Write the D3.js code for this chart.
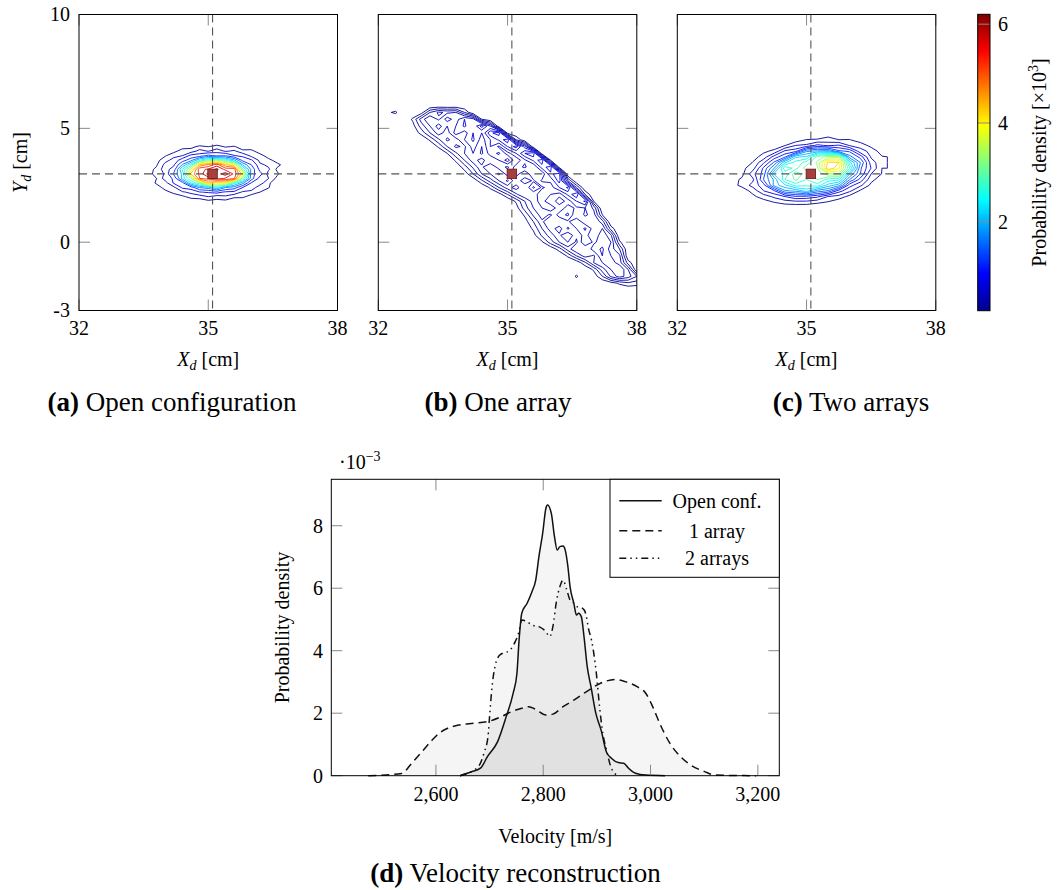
<!DOCTYPE html>
<html>
<head>
<meta charset="utf-8">
<script src="https://cdn.jsdelivr.net/npm/d3@7"></script>
<style>
  body { margin: 0; background: #fff; }
  svg { display: block; }
  text { font-family: "Liberation Serif", "Times New Roman", serif; fill: #000; }
</style>
</head>
<body>
<svg id="chart" width="1057" height="890" font-family="Liberation Serif"></svg>
<script>
// ---------- data ----------
// true source position (cm)
const sourceX = 35.1, sourceY = 3.0;

const xTickValues = [32, 35, 38];
const yTickValues = [-3, 0, 5, 10];
const colorbarTicks = [2, 4, 6];

// (a) open configuration : probability density x10^3, rows from top (y = 4.4) down, step 0.2 cm
const gridA = { x0: 33.4, dx: 0.2, yTop: 4.4, dy: 0.2 };
const densityA = [
  [0,0,0,0,0,0,0,0,0.05,0.06,0,0,0,0,0,0,0,0],
  [0,0,0,0,0,0.12,0.18,0.3,0.24,0.33,0.22,0.27,0.12,0.07,0,0,0,0],
  [0,0,0,0.1,0.16,0.38,0.35,0.6,0.48,0.66,0.46,0.55,0.3,0.33,0.1,0,0,0],
  [0,0,0.08,0.22,0.44,0.5,0.9,0.95,1.3,1.1,1.15,0.82,0.72,0.42,0.36,0.12,0.04,0],
  [0,0.03,0.15,0.42,0.58,1.0,1.45,2.4,3.0,3.2,2.7,2.1,1.05,0.85,0.42,0.33,0.14,0],
  [0,0.12,0.22,0.58,0.74,1.65,2.6,4.5,4.9,5.4,4.5,4.0,1.95,1.2,0.55,0.45,0.32,0.14],
  [0.02,0.16,0.3,0.66,0.95,2.45,3.8,5.5,5.65,6.1,5.45,5.5,2.95,1.5,0.68,0.54,0.2,0.03],
  [0,0.09,0.4,0.52,1.28,2.1,4.5,5.3,6.15,5.85,6.2,5.5,4.2,1.35,0.95,0.38,0.3,0.02],
  [0,0.14,0.25,0.62,0.85,2.15,3.25,5.2,5.35,5.8,5.55,5.3,3.1,1.4,0.64,0.5,0.17,0],
  [0,0.03,0.3,0.37,0.84,1.02,2.4,3.1,4.4,4.0,4.1,2.6,1.75,0.76,0.64,0.27,0.17,0],
  [0,0,0.09,0.36,0.42,0.86,0.96,1.6,1.8,2.35,1.6,1.4,0.8,0.68,0.32,0.27,0.04,0],
  [0,0,0,0.16,0.32,0.46,0.57,0.78,0.84,0.92,0.74,0.7,0.46,0.4,0.25,0.07,0,0],
  [0,0,0,0,0.1,0.2,0.34,0.36,0.5,0.37,0.45,0.3,0.31,0.13,0.04,0,0,0],
  [0,0,0,0,0,0,0.09,0.12,0.19,0.17,0.18,0.09,0.04,0,0,0,0,0],
  [0,0,0,0,0,0,0,0,0,0,0,0,0,0,0,0,0,0]
];
const levelsA = [0.25, 0.5, 0.8, 1.2, 1.6, 2.0, 2.4, 2.8, 3.2, 3.6, 4.0, 4.4, 4.8, 5.2, 5.6, 6.0];

// (b) one array : rows from y = 6.3 down, step 0.3 cm; columns from x = 32.4, step 0.2 cm
const gridB = { x0: 32.4, dx: 0.2, yTop: 6.3, dy: 0.3 };
const densityB = [
  [0,0,0,0,0,0,0,0,0,0, 0,0,0,0,0,0,0,0,0,0, 0,0,0,0,0,0,0,0,0,0],
  [0,0,0,0,0,0,0,0,0,0, 0,0,0,0,0,0,0,0,0,0, 0,0,0,0,0,0,0,0,0,0],
  [0.12,0,0,0.05,0.3,0.42,0.38,0.4,0.2,0, 0,0,0,0,0,0,0,0,0,0, 0,0,0,0,0,0,0,0,0,0],
  [0,0,0.12,0.35,0.5,0.38,0.55,0.45,0.6,0.55, 0.1,0,0,0,0,0,0,0,0,0, 0,0,0,0,0,0,0,0,0,0],
  [0,0,0.06,0.25,0.4,0.55,0.4,0.5,0.62,0.5, 0.75,0.5,0,0,0,0,0,0,0,0, 0,0,0,0,0,0,0,0,0,0],
  [0,0,0.02,0.14,0.3,0.45,0.35,0.55,0.45,0.6, 0.5,0.78,0.85,0.05,0,0,0,0,0,0, 0,0,0,0,0,0,0,0,0,0],
  [0,0,0,0,0.12,0.28,0.42,0.35,0.5,0.62, 0.45,0.6,0.72,0.88,0.2,0,0,0,0,0, 0,0,0,0,0,0,0,0,0,0],
  [0,0,0,0,0,0.12,0.3,0.42,0.38,0.55, 0.4,0.6,0.48,0.7,0.85,0.55,0,0,0,0, 0,0,0,0,0,0,0,0,0,0],
  [0,0,0,0,0,0,0.1,0.28,0.4,0.5, 0.38,0.55,0.62,0.45,0.6,0.8,0.88,0.02,0,0, 0,0,0,0,0,0,0,0,0,0],
  [0,0,0,0,0,0,0,0.12,0.3,0.45, 0.55,0.4,0.5,0.65,0.42,0.58,0.72,0.88,0.1,0, 0,0,0,0,0,0,0,0,0,0],
  [0,0,0,0,0,0,0,0.02,0.15,0.32, 0.48,0.6,0.45,0.38,0.55,0.62,0.5,0.75,0.86,0.05, 0,0,0,0,0,0,0,0,0,0],
  [0,0,0,0,0,0,0,0,0.04,0.2, 0.4,0.5,0.62,0.45,0.55,0.4,0.6,0.52,0.78,0.85, 0,0,0,0,0,0,0,0,0,0],
  [0,0,0,0,0,0,0,0,0,0.02, 0.18,0.35,0.5,0.62,0.42,0.58,0.48,0.62,0.62,0.85, 0.3,0,0,0,0,0,0,0,0,0],
  [0,0,0,0,0,0,0,0,0,0, 0,0.12,0.3,0.45,0.55,0.4,0.62,0.48,0.55,0.7, 0.82,0.3,0,0,0,0,0,0,0,0],
  [0,0,0,0,0,0,0,0,0,0, 0,0,0.05,0.2,0.38,0.5,0.42,0.6,0.5,0.45, 0.62,0.8,0.2,0,0,0,0,0,0,0],
  [0,0,0,0,0,0,0,0,0,0, 0,0,0,0,0.12,0.3,0.45,0.55,0.4,0.58, 0.45,0.6,0.72,0.1,0,0,0,0,0,0],
  [0,0,0,0,0,0,0,0,0,0, 0,0,0,0,0.05,0.25,0.4,0.5,0.6,0.42, 0.55,0.48,0.5,0.38,0,0,0,0,0,0],
  [0,0,0,0,0,0,0,0,0,0, 0,0,0,0,0,0.12,0.32,0.45,0.38,0.55, 0.62,0.4,0.52,0.45,0.1,0,0,0,0,0],
  [0,0,0,0,0,0,0,0,0,0, 0,0,0,0,0,0.05,0.2,0.38,0.5,0.4, 0.48,0.6,0.42,0.5,0.35,0,0,0,0,0],
  [0,0,0,0,0,0,0,0,0,0, 0,0,0,0,0,0.02,0.12,0.3,0.45,0.55, 0.38,0.5,0.62,0.45,0.5,0.15,0,0,0,0],
  [0,0,0,0,0,0,0,0,0,0, 0,0,0,0,0,0,0.06,0.22,0.35,0.48, 0.6,0.42,0.55,0.4,0.58,0.42,0,0,0,0],
  [0,0,0,0,0,0,0,0,0,0, 0,0,0,0,0,0,0,0.08,0.25,0.4, 0.5,0.38,0.6,0.48,0.55,0.5,0.12,0,0,0],
  [0,0,0,0,0,0,0,0,0,0, 0,0,0,0,0,0,0,0,0.02,0.15, 0.35,0.5,0.4,0.55,0.62,0.45,0.3,0,0,0],
  [0,0,0,0,0,0,0,0,0,0, 0,0,0,0,0,0,0,0,0,0, 0.12,0.3,0.45,0.38,0.6,0.5,0.42,0,0,0],
  [0,0,0,0,0,0,0,0,0,0, 0,0,0,0,0,0,0,0,0,0, 0,0.02,0.18,0.4,0.5,0.55,0.45,0.15,0,0],
  [0,0,0,0,0,0,0,0,0,0, 0,0,0,0,0,0,0,0,0,0, 0,0,0,0.12,0.35,0.5,0.6,0.4,0,0],
  [0,0,0,0,0,0,0,0,0,0, 0,0,0,0,0,0,0,0,0,0, 0,0.12,0,0.03,0.2,0.42,0.55,0.45,0.3,0.1],
  [0,0,0,0,0,0,0,0,0,0, 0,0,0,0,0,0,0,0,0,0, 0,0,0,0,0,0.05,0.12,0.18,0.15,0.05],
  [0,0,0,0,0,0,0,0,0,0, 0,0,0,0,0,0,0,0,0,0, 0,0,0,0,0,0,0,0,0,0],
  [0,0,0,0,0,0,0,0,0,0, 0,0,0,0,0,0,0,0,0,0, 0,0,0,0,0,0,0,0,0,0]
];
const levelsB = [0.1, 0.2, 0.3, 0.4, 0.5, 0.6, 0.7, 0.8];

// (c) two arrays : rows from y = 4.75 down, step 0.25 cm; columns from x = 33.25, step 0.25 cm
const gridC = { x0: 33.25, dx: 0.25, yTop: 4.75, dy: 0.25 };
const densityC = [
  [0,0,0,0,0,0,0,0,0.08,0.15,0.12,0.05,0,0,0],
  [0,0,0,0,0,0.06,0.1,0.26,0.27,0.34,0.25,0.26,0.08,0,0],
  [0,0,0,0.04,0.12,0.24,0.5,0.55,0.82,0.7,0.78,0.48,0.42,0.15,0],
  [0,0,0,0.2,0.3,0.8,0.9,1.7,1.8,1.85,1.3,1.2,0.58,0.44,0.1],
  [0,0,0.15,0.34,0.86,1.2,2.2,2.3,3.1,3.35,3.4,1.6,1.15,0.46,0.27],
  [0,0.04,0.26,0.7,1.3,2.2,2.6,2.85,3.3,4.3,4.25,2.35,1.5,0.62,0.34],
  [0,0.18,0.38,1.05,1.75,2.95,2.65,3.15,3.2,4.5,4.05,2.8,1.3,0.74,0.25],
  [0,0.17,0.65,1.1,2.3,2.55,3.2,2.85,3.15,3.4,3.45,2.0,1.25,0.5,0.24],
  [0.12,0.3,0.43,1.25,1.8,2.75,3.05,2.75,3.0,2.65,2.55,1.5,0.9,0.33,0.1],
  [0.17,0.3,0.6,0.88,1.85,2.2,2.6,2.55,2.65,2.15,1.85,0.85,0.56,0.18,0],
  [0,0.14,0.31,0.74,0.95,1.7,1.8,2.1,1.65,1.45,0.85,0.55,0.2,0.02,0],
  [0,0,0.2,0.34,0.56,0.74,0.95,0.9,0.8,0.48,0.4,0.16,0.03,0,0],
  [0,0,0.02,0.15,0.25,0.36,0.38,0.39,0.3,0.22,0.05,0,0,0,0],
  [0,0,0,0,0,0,0.03,0,0,0,0,0,0,0,0]
];
const levelsC = [0.25, 0.5, 0.75, 1.0, 1.25, 1.5, 1.75, 2.0, 2.25, 2.5, 2.75, 3.0, 3.25, 3.5, 3.75, 4.0, 4.25];

// (d) velocity reconstruction : probability density x10^-3
const velOpen = [2645,2665,2683,2696,2715,2731,2744,2751,2755,2760,2770,2779,2786,2792,2799,2805,2808,2815,2821,2826,2831,2837,2841,2846,2850,2857,2862,2866,2871,2876,2882,2889,2898,2908,2918,2927,2940,2950,2959,2972,2991,3027];
const pdfOpen = [0,0.12,0.24,0.61,1.09,1.89,2.64,3.28,4.34,5.2,5.52,5.89,6.26,7.01,7.76,8.56,8.66,8.4,7.65,7.22,7.33,7.35,7.22,6.69,6.05,5.52,5.14,5.2,5.09,4.45,3.49,2.85,2.0,1.45,0.75,0.56,0.42,0.4,0.24,0.08,0.02,0];
const velOne = [2474,2536,2555,2574,2593,2606,2622,2642,2670,2696,2722,2741,2760,2773,2786,2805,2818,2837,2857,2876,2895,2914,2934,2953,2975,2991,3004,3017,3036,3056,3075,3101,3120,3197];
const pdfOne = [0,0.07,0.4,0.77,1.14,1.36,1.52,1.62,1.68,1.73,1.89,2.05,2.16,2.21,2.12,1.94,1.97,2.21,2.42,2.64,2.85,3.01,3.08,3.01,2.85,2.64,2.21,1.68,1.04,0.61,0.34,0.13,0.02,0];
const velTwo = [2645,2679,2690,2697,2700,2704,2710,2719,2738,2748,2754,2760,2770,2779,2792,2805,2812,2818,2825,2831,2837,2844,2850,2857,2863,2873,2879,2885,2890,2899,2905,2911,2918,2927,2939];
const pdfTwo = [0,0.29,0.75,1.25,1.89,2.74,3.49,3.86,4.02,4.3,4.56,4.98,4.93,4.82,4.77,4.61,4.45,4.77,5.62,6.05,6.26,5.94,5.62,5.52,5.41,5.36,5.2,4.66,4.34,3.28,2.21,1.36,0.82,0.24,0];

const velocityTicks = [2600, 2800, 3000, 3200];
const pdfTicks = [0, 2, 4, 6, 8];
const legendLabels = ["Open conf.", "1 array", "2 arrays"];

// ---------- layout ----------
const svg = d3.select("#chart");
const plotTop = 14.5, plotBottom = 310.5, plotW = 258.5, tickLen = 11;
const tickColor = "#8a8a8a";

// jet colour map over the colour bar range
const jet = d3.scaleLinear()
  .domain([0.2, 0.95, 2.45, 3.95, 5.45, 6.2])
  .range(["#000090", "#0000ff", "#00ffff", "#ffff00", "#ff0000", "#800000"])
  .clamp(true);

const panels = [
  { left: 79,    density: densityA, grid: gridA, levels: levelsA, tag: "(a)", caption: "Open configuration", capX: 172 },
  { left: 378.3, density: densityB, grid: gridB, levels: levelsB, tag: "(b)", caption: "One array",          capX: 498 },
  { left: 677.3, density: densityC, grid: gridC, levels: levelsC, tag: "(c)", caption: "Two arrays",         capX: 851 }
];

function addTicks(g, xs, ys, xt, yt) {
  const [xl, xr] = xs.range();
  const [yb, yt0] = ys.range();
  const segs = [];
  xt.forEach(v => {
    segs.push([xs(v), yb, xs(v), yb - tickLen]);
    segs.push([xs(v), yt0, xs(v), yt0 + tickLen]);
  });
  yt.forEach(v => {
    segs.push([xl, ys(v), xl + tickLen, ys(v)]);
    segs.push([xr, ys(v), xr - tickLen, ys(v)]);
  });
  g.append("g").selectAll("line").data(segs).join("line")
    .attr("x1", d => d[0]).attr("y1", d => d[1])
    .attr("x2", d => d[2]).attr("y2", d => d[3])
    .attr("stroke", tickColor).attr("stroke-width", 1);
}

function caption(x, y, tag, txt) {
  const t = svg.append("text").attr("x", x).attr("y", y)
    .attr("text-anchor", "middle").attr("font-size", 27);
  t.append("tspan").attr("font-weight", "bold").text(tag);
  t.append("tspan").text(" " + txt);
}

// --- contour panels ---
panels.forEach((p, k) => {
  const xs = d3.scaleLinear().domain([32, 38]).range([p.left, p.left + plotW]);
  const ys = d3.scaleLinear().domain([-3, 10]).range([plotBottom, plotTop]);
  const g = svg.append("g");

  svg.append("clipPath").attr("id", "clip" + k).append("rect")
    .attr("x", p.left).attr("y", plotTop)
    .attr("width", plotW).attr("height", plotBottom - plotTop);
  const inner = g.append("g").attr("clip-path", `url(#clip${k})`);

  const ny = p.density.length, nx = p.density[0].length;
  const contours = d3.contours().size([nx, ny]).thresholds(p.levels)(p.density.flat());
  const gr = p.grid;
  const toData = d3.geoTransform({
    point(gx, gy) {
      this.stream.point(xs(gr.x0 + (gx - 0.5) * gr.dx), ys(gr.yTop - (gy - 0.5) * gr.dy));
    }
  });
  inner.selectAll("path.level").data(contours).join("path")
    .attr("class", "level")
    .attr("d", d3.geoPath(toData))
    .attr("fill", "none")
    .attr("stroke", d => jet(d.value))
    .attr("stroke-width", 0.9)
    .attr("stroke-linejoin", "round");

  // dashed cross through the source
  inner.append("line")
    .attr("x1", xs(sourceX)).attr("x2", xs(sourceX))
    .attr("y1", plotTop).attr("y2", plotBottom);
  inner.append("line")
    .attr("x1", p.left).attr("x2", p.left + plotW)
    .attr("y1", ys(sourceY)).attr("y2", ys(sourceY));
  inner.selectAll("line")
    .attr("stroke", "#555").attr("stroke-width", 1.1).attr("stroke-dasharray", "8,5");

  addTicks(g, xs, ys, xTickValues, yTickValues);

  g.append("rect")
    .attr("x", xs(sourceX) - 4.75).attr("y", ys(sourceY) - 4.75)
    .attr("width", 9.5).attr("height", 9.5)
    .attr("fill", "#a83e3e").attr("stroke", "#5c1b1b").attr("stroke-width", 0.8);

  g.append("rect")
    .attr("x", p.left).attr("y", plotTop)
    .attr("width", plotW).attr("height", plotBottom - plotTop)
    .attr("fill", "none").attr("stroke", "#000").attr("stroke-width", 1);

  g.selectAll("text.xt").data(xTickValues).join("text")
    .attr("class", "xt")
    .attr("x", d => xs(d)).attr("y", plotBottom + 24)
    .attr("text-anchor", "middle").attr("font-size", 20)
    .text(d => d);

  if (k === 0) {
    g.selectAll("text.yt").data(yTickValues).join("text")
      .attr("class", "yt")
      .attr("x", p.left - 9).attr("y", d => ys(d)).attr("dy", "0.34em")
      .attr("text-anchor", "end").attr("font-size", 20)
      .text(d => d);
    const yl = g.append("text")
      .attr("transform", `translate(27,${(plotTop + plotBottom) / 2}) rotate(-90)`)
      .attr("text-anchor", "middle").attr("font-size", 20);
    yl.append("tspan").attr("font-style", "italic").text("Y");
    yl.append("tspan").attr("font-style", "italic").attr("font-size", 14).attr("dy", 4).text("d");
    yl.append("tspan").attr("dy", -4).text(" [cm]");
  }

  const xl = g.append("text")
    .attr("x", p.left + plotW / 2).attr("y", 366)
    .attr("text-anchor", "middle").attr("font-size", 20);
  xl.append("tspan").attr("font-style", "italic").text("X");
  xl.append("tspan").attr("font-style", "italic").attr("font-size", 14).attr("dy", 4).text("d");
  xl.append("tspan").attr("dy", -4).text(" [cm]");

  caption(p.capX, 411, p.tag, p.caption);
});

// --- colour bar ---
const cb = { x: 977.7, w: 12.3 };
const cbScale = d3.scaleLinear().domain([0.2, 6.2]).range([310.7, 14.3]);
const grad = svg.append("defs").append("linearGradient")
  .attr("id", "jetGrad").attr("x1", 0).attr("y1", 1).attr("x2", 0).attr("y2", 0);
jet.domain().forEach((v, i) => {
  grad.append("stop")
    .attr("offset", (v - 0.2) / 6)
    .attr("stop-color", jet.range()[i]);
});
svg.append("rect")
  .attr("x", cb.x).attr("y", cbScale(6.2))
  .attr("width", cb.w).attr("height", cbScale(0.2) - cbScale(6.2))
  .attr("fill", "url(#jetGrad)");
svg.append("g").selectAll("line").data(colorbarTicks).join("line")
  .attr("x1", cb.x).attr("x2", cb.x + cb.w)
  .attr("y1", d => cbScale(d)).attr("y2", d => cbScale(d))
  .attr("stroke", tickColor).attr("stroke-width", 1);
svg.append("rect")
  .attr("x", cb.x).attr("y", cbScale(6.2))
  .attr("width", cb.w).attr("height", cbScale(0.2) - cbScale(6.2))
  .attr("fill", "none").attr("stroke", "#000").attr("stroke-width", 1);
svg.append("g").selectAll("text").data(colorbarTicks).join("text")
  .attr("x", 998).attr("y", d => cbScale(d)).attr("dy", "0.34em")
  .attr("font-size", 20).text(d => d);
const cbl = svg.append("text")
  .attr("transform", `translate(1046,${(plotTop + plotBottom) / 2}) rotate(-90)`)
  .attr("text-anchor", "middle").attr("font-size", 20);
cbl.append("tspan").text("Probability density [\u00d710");
cbl.append("tspan").attr("font-size", 14).attr("dy", -8).text("3");
cbl.append("tspan").attr("dy", 8).text("]");

// --- (d) velocity PDFs ---
const vx = d3.scaleLinear().domain([2405, 3240]).range([331.3, 779.3]);
const vy = d3.scaleLinear().domain([0, 9.485]).range([775.7, 479.3]);
const gd = svg.append("g");

const series = [
  { vel: velOne,  pdf: pdfOne,  dash: "8,5" },
  { vel: velTwo,  pdf: pdfTwo,  dash: "7,4,1.5,4,1.5,4" },
  { vel: velOpen, pdf: pdfOpen, dash: null }
];
const area = d3.area().curve(d3.curveMonotoneX)
  .x(d => vx(d[0])).y0(vy(0)).y1(d => vy(d[1]));
const line = d3.line().curve(d3.curveMonotoneX)
  .x(d => vx(d[0])).y(d => vy(d[1]));

series.forEach(s => { s.pts = d3.zip(s.vel, s.pdf); });

gd.selectAll("path.fill").data(series).join("path")
  .attr("class", "fill")
  .attr("d", d => area(d.pts))
  .attr("fill", "#000").attr("fill-opacity", 0.04);

gd.selectAll("path.curve").data(series).join("path")
  .attr("class", "curve")
  .attr("d", d => line(d.pts))
  .attr("fill", "none")
  .attr("stroke", "#111").attr("stroke-width", 1.5)
  .attr("stroke-dasharray", d => d.dash);

addTicks(gd, vx, vy, velocityTicks, pdfTicks);

gd.append("rect")
  .attr("x", 331.3).attr("y", 479.3).attr("width", 448).attr("height", 296.4)
  .attr("fill", "none").attr("stroke", "#000").attr("stroke-width", 1);

gd.selectAll("text.vt").data(velocityTicks).join("text")
  .attr("class", "vt")
  .attr("x", d => vx(d)).attr("y", 801)
  .attr("text-anchor", "middle").attr("font-size", 20)
  .text(d3.format(","));
gd.selectAll("text.pt").data(pdfTicks).join("text")
  .attr("class", "pt")
  .attr("x", 323).attr("y", d => vy(d)).attr("dy", "0.34em")
  .attr("text-anchor", "end").attr("font-size", 20)
  .text(d => d);

const mult = gd.append("text").attr("x", 339).attr("y", 469).attr("font-size", 20);
mult.append("tspan").text("\u00b710");
mult.append("tspan").attr("font-size", 14).attr("dy", -8).text("\u22123");

gd.append("text")
  .attr("transform", `translate(289,627.5) rotate(-90)`)
  .attr("text-anchor", "middle").attr("font-size", 20)
  .text("Probability density");
gd.append("text")
  .attr("x", 555.3).attr("y", 843)
  .attr("text-anchor", "middle").attr("font-size", 20)
  .text("Velocity [m/s]");

// legend
const leg = gd.append("g");
leg.append("rect")
  .attr("x", 610).attr("y", 479.3).attr("width", 169.3).attr("height", 98)
  .attr("fill", "#fff").attr("stroke", "#000").attr("stroke-width", 1);
const legRows = [
  { label: legendLabels[0], dash: null, y: 500.7 },
  { label: legendLabels[1], dash: "8,5", y: 530.7 },
  { label: legendLabels[2], dash: "7,4,1.5,4,1.5,4", y: 558.3 }
];
leg.selectAll("line").data(legRows).join("line")
  .attr("x1", 619.3).attr("x2", 661.7)
  .attr("y1", d => d.y).attr("y2", d => d.y)
  .attr("stroke", "#111").attr("stroke-width", 1.5)
  .attr("stroke-dasharray", d => d.dash);
leg.selectAll("text").data(legRows).join("text")
  .attr("x", 717).attr("y", d => d.y + 7)
  .attr("text-anchor", "middle").attr("font-size", 20)
  .text(d => d.label);

caption(515.5, 882, "(d)", "Velocity reconstruction");
</script>
</body>
</html>
